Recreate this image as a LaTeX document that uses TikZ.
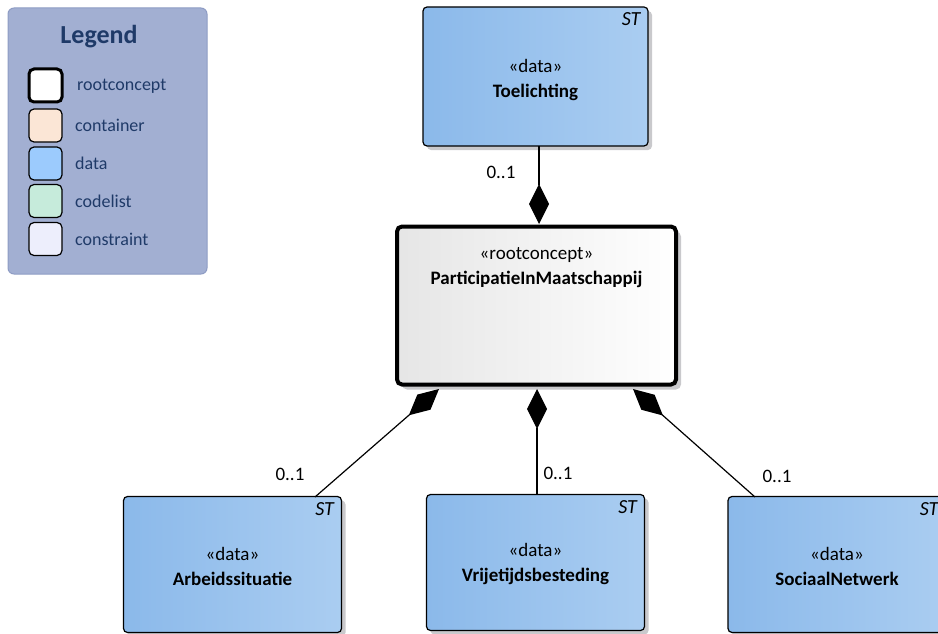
\documentclass[tikz,border=0pt]{standalone}
\usepackage{fontspec}
\setmainfont{Carlito}
\usetikzlibrary{arrows.meta,shadows,calc}
\definecolor{legbg}{HTML}{A2AFD2}
\definecolor{legborder}{HTML}{8E9CC4}
\definecolor{legtext}{HTML}{1F3A68}
\definecolor{dataL}{HTML}{8BB9EA}
\definecolor{dataR}{HTML}{AACDF1}
\definecolor{cont}{HTML}{FBE6D6}
\definecolor{datasw}{HTML}{9CCBFD}
\definecolor{code}{HTML}{C6EBDB}
\definecolor{constr}{HTML}{EDEEFC}
\definecolor{shad}{HTML}{C9C9CC}
\tikzset{
  databox/.style={draw=black, line width=1.2pt, rounded corners=4pt, left color=dataL, right color=dataR,
    minimum width=218pt, minimum height=136pt, align=center, inner sep=0pt,
    font=\fontsize{19}{25}\selectfont,
    drop shadow={shadow xshift=4pt, shadow yshift=-4pt, fill=shad, opacity=1}},
  boxtext/.style={align=center, font=\fontsize{19}{25}\selectfont, inner sep=0pt},
  rootbox/.style={draw=black, line width=4pt, rounded corners=5pt, left color=black!10, right color=white,
    minimum width=279pt, minimum height=158pt, inner sep=0pt,
    drop shadow={shadow xshift=5pt, shadow yshift=-5pt, fill=shad, opacity=1}},
  sttag/.style={anchor=north east, font=\fontsize{20}{22}\selectfont\itshape, inner sep=0pt},
  mult/.style={font=\fontsize{19}{21}\selectfont, inner sep=0pt},
  comp/.style={line width=1.2pt, -{Diamond[length=40pt,width=20pt]}},
  swatch/.style={draw=black, line width=1.2pt, rounded corners=5pt, minimum width=33pt, minimum height=33pt, inner sep=0pt},
  legitem/.style={anchor=west, text=legtext, font=\fontsize{18}{20}\selectfont, inner sep=0pt},
}
\begin{document}
\begin{tikzpicture}[x=1pt,y=-1pt]
\useasboundingbox (0,0) rectangle (938,634);
\clip (0,0) rectangle (938,634);
% Legend
\node[draw=legborder, line width=1pt, fill=legbg, rounded corners=6pt, minimum width=199pt, minimum height=266pt, inner sep=0pt] (legend) at (107.5,141) {};
\node[text=legtext, font=\fontsize{26}{28}\selectfont\bfseries, inner sep=0pt] (legtitle) at (99,37) {Legend};
\node[swatch, fill=white, line width=3pt] (s1) at (45.5,85.5) {};
\node[legitem] (l1) at (77,86) {rootconcept};
\node[swatch, fill=cont] (s2) at (45.5,125.5) {};
\node[legitem] (l2) at (75,125) {container};
\node[swatch, fill=datasw] (s3) at (45.5,163.5) {};
\node[legitem] (l3) at (75,163) {data};
\node[swatch, fill=code] (s4) at (45.5,201) {};
\node[legitem] (l4) at (75,201) {codelist};
\node[swatch, fill=constr] (s5) at (45.5,239) {};
\node[legitem] (l5) at (75,239) {constraint};
% Classes
\node[databox, minimum width=225pt, minimum height=139pt] (toel) at (535.5,76.5) {};
\node[boxtext] (toeltxt) at ($(toel.center)+(0,4)$) {«data»\\\textbf{Toelichting}};
\node[sttag] at ($(toel.north east)+(-8,6)$) {ST};
\node[rootbox] (root) at (536.5,305.5) {};
\node[boxtext, anchor=north] (roottxt) at ($(root.north)+(0,23)$) {«rootconcept»\\\textbf{ParticipatieInMaatschappij}};
\node[databox] (arb) at (232.5,564.5) {};
\node[boxtext] (arbtxt) at ($(arb.center)+(0,2)$) {«data»\\\textbf{Arbeidssituatie}};
\node[sttag] at ($(arb.north east)+(-8,6)$) {ST};
\node[databox] (vrij) at (535.5,562.5) {};
\node[boxtext] (vrijtxt) at ($(vrij.center)+(0,2)$) {«data»\\\textbf{Vrijetijdsbesteding}};
\node[sttag] at ($(vrij.north east)+(-8,6)$) {ST};
\node[databox] (soc) at (837,564.5) {};
\node[boxtext] (soctxt) at ($(soc.center)+(0,2)$) {«data»\\\textbf{SociaalNetwerk}};
\node[sttag] at ($(soc.north east)+(-8,6)$) {ST};
% attachment points
\coordinate (arbT) at (315,497);
\coordinate (rootBL) at (439,389);
\coordinate (socT) at (755,497);
\coordinate (rootBR) at (633,389);
\coordinate (vrijT) at (537,494);
\coordinate (rootBM) at (537,389);
\coordinate (toelB) at (539,146);
\coordinate (rootT) at (539,224);
% connectors
\draw[comp] (toelB) -- (rootT);
\draw[comp] (arbT) -- (rootBL);
\draw[comp] (vrijT) -- (rootBM);
\draw[comp] (socT) -- (rootBR);
% multiplicities
\node[mult] (m1) at (501,172) {0..1};
\node[mult] (m2) at (290,474) {0..1};
\node[mult] (m3) at (558,473) {0..1};
\node[mult] (m4) at (777,476) {0..1};
\end{tikzpicture}
\end{document}
